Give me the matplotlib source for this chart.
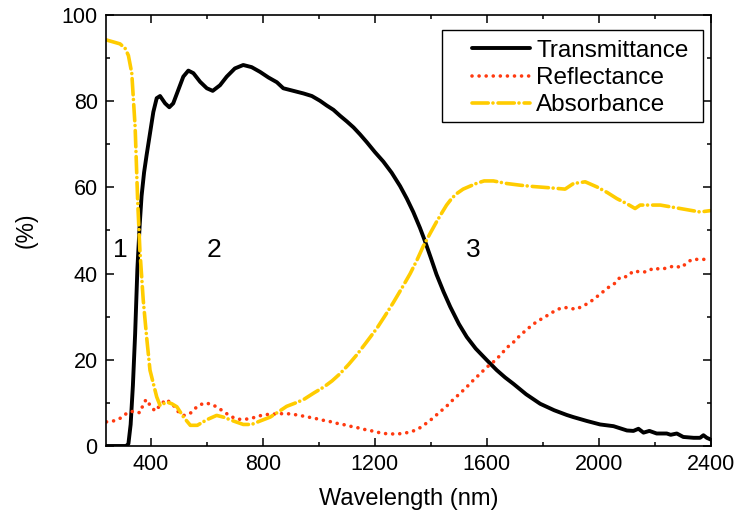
import matplotlib
matplotlib.use("Agg")
import matplotlib.pyplot as plt
from matplotlib.patches import Rectangle
from matplotlib.ticker import MultipleLocator

# ---------------- data ----------------
t_wl = [240, 280, 312, 320, 328, 336, 344, 352, 360, 367, 376, 385, 397, 409, 421, 433,
        451, 466, 480, 498, 516, 534, 552, 576, 600, 621, 647, 671, 700, 730, 760,
        790, 820, 850, 873, 909, 945, 975, 1004, 1028, 1052, 1076, 1100, 1124, 1147,
        1171, 1200, 1230, 1260, 1290, 1314, 1337, 1361, 1379, 1400, 1420, 1445,
        1469, 1500, 1528, 1560, 1600, 1635, 1665, 1695, 1740, 1790, 1840, 1885,
        1909, 1957, 2004, 2052, 2100, 2123, 2141, 2159, 2180, 2206, 2242, 2256,
        2278, 2301, 2338, 2361, 2373, 2385, 2399]
t_val = [0.0, 0.0, 0.0, 0.5, 5.0, 14.0, 26.0, 41.0, 51.0, 58.0, 63.5, 67.5, 72.5, 77.5, 80.7, 81.2,
         79.5, 78.6, 79.5, 82.6, 85.7, 87.1, 86.5, 84.5, 83.0, 82.4, 83.7, 85.7, 87.6, 88.4, 87.9,
         86.8, 85.5, 84.4, 83.0, 82.4, 81.8, 81.2, 80.1, 79.0, 78.0, 76.6, 75.3, 73.9, 72.3,
         70.5, 68.2, 66.0, 63.4, 60.3, 57.4, 54.3, 50.6, 47.5, 43.6, 39.8, 35.8,
         32.3, 28.3, 25.3, 22.6, 19.9, 17.6, 15.9, 14.4, 12.0, 9.8, 8.3, 7.2,
         6.7, 5.8, 5.0, 4.6, 3.6, 3.5, 4.0, 3.1, 3.5, 2.9, 2.9, 2.6,
         2.9, 2.1, 1.9, 1.9, 2.5, 1.9, 1.5]

r_wl = [242, 266, 293, 316, 340, 361, 371, 383, 397, 415, 433, 454, 478, 495, 519,
        543, 566, 591, 617, 642, 666, 691, 714, 738, 763, 788, 814, 838, 862, 888,
        913, 939, 963, 987, 1013, 1038, 1061, 1086, 1111, 1135, 1158, 1183, 1208,
        1233, 1257, 1283, 1308, 1334, 1358, 1382, 1406, 1430, 1454, 1480, 1504,
        1528, 1552, 1573, 1600, 1623, 1647, 1671, 1695, 1719, 1742, 1766, 1790,
        1816, 1841, 1867, 1891, 1916, 1941, 1966, 1988, 2011, 2034, 2058, 2076,
        2100, 2123, 2147, 2171, 2195, 2219, 2243, 2269, 2294, 2314, 2332, 2356,
        2377, 2395]
r_val = [5.6, 5.8, 6.5, 7.7, 8.1, 7.7, 9.3, 10.8, 9.5, 8.1, 9.4, 10.8, 9.7, 8.1, 7.1,
         7.7, 9.2, 10.0, 9.7, 8.8, 7.7, 6.7, 6.2, 6.2, 6.5, 7.0, 7.3, 7.4, 7.5, 7.5,
         7.3, 7.0, 6.7, 6.4, 6.0, 5.7, 5.3, 5.0, 4.6, 4.3, 3.9, 3.6, 3.2,
         2.9, 2.8, 2.8, 3.0, 3.4, 4.1, 5.2, 6.4, 7.8, 9.1, 10.8, 12.2,
         13.7, 15.3, 16.6, 18.3, 19.5, 21.0, 22.8, 24.1, 25.7, 27.0, 28.3, 29.3,
         30.3, 31.3, 32.1, 32.1, 31.7, 32.4, 33.3, 34.4, 35.6, 36.8, 37.8, 39.2,
         39.3, 40.6, 40.4, 40.4, 41.3, 41.0, 41.3, 41.8, 41.4, 42.5, 43.3, 43.3,
         43.3, 43.5]

a_wl = [242, 290, 308, 320, 332, 344, 353, 361, 373, 385, 397, 409, 421, 433, 457, 475, 493,
        517, 541, 566, 600, 635, 659, 695, 730, 760, 790, 826, 855, 885, 921,
        946, 982, 1018, 1047, 1076, 1106, 1136, 1170, 1207, 1236, 1266, 1296, 1326,
        1350, 1373, 1397, 1420, 1440, 1456, 1475, 1493, 1515, 1540, 1565, 1590,
        1623, 1671, 1720, 1766, 1826, 1879, 1909, 1951, 1993, 2030, 2064, 2100,
        2129, 2147, 2219, 2290, 2361, 2397]
a_val = [94.2, 93.3, 92.3, 90.6, 86.5, 74.0, 57.0, 45.4, 33.8, 25.3, 17.6, 14.5, 11.4, 9.4, 10.2, 9.8, 9.1,
         6.7, 4.8, 4.8, 6.1, 7.1, 6.7, 5.8, 5.0, 5.0, 5.8, 6.7, 7.9, 9.2, 10.1,
         10.8, 12.3, 13.7, 15.1, 16.8, 18.9, 21.2, 24.1, 27.3, 30.2, 33.3, 36.6, 40.0,
         43.1, 46.4, 49.3, 52.0, 54.2, 55.9, 57.5, 58.6, 59.6, 60.3, 61.0, 61.5,
         61.5, 60.9, 60.5, 60.2, 59.9, 59.6, 60.9, 61.3, 60.1, 58.8, 57.4, 56.2,
         55.1, 55.9, 55.9, 55.1, 54.3, 54.6]

series_labels = ["Transmittance", "Reflectance", "Absorbance"]
region_labels = ["1", "2", "3"]
region_x = [290, 626, 1551]
region_y = [45.5, 45.5, 45.5]

x_ticks = [400, 800, 1200, 1600, 2000, 2400]
y_ticks = [0, 20, 40, 60, 80, 100]

# ---------------- style ----------------
plt.rcParams['font.family'] = ['Liberation Sans', 'DejaVu Sans']

fig = plt.figure(figsize=(7.37, 5.20), dpi=100)
ax = fig.add_axes([106 / 737, 1 - 446 / 520, 605 / 737, 431 / 520])

ax.plot(t_wl, t_val, color='black', lw=2.8, label=series_labels[0],
        solid_joinstyle='round', solid_capstyle='round')
ax.plot(r_wl, r_val, color='#FF3A10', lw=2.6, linestyle=(0, (0.01, 1.95)),
        dash_capstyle='round', label=series_labels[1])
ax.plot(a_wl, a_val, color='#FFCC00', lw=2.6, linestyle=(0, (4.5, 1.3, 0.01, 1.4)),
        dash_capstyle='round', label=series_labels[2])

ax.set_xlim(240, 2400)
ax.set_ylim(0, 100)
ax.set_xticks(x_ticks)
ax.set_yticks(y_ticks)
ax.xaxis.set_minor_locator(MultipleLocator(200))
ax.yaxis.set_minor_locator(MultipleLocator(10))
ax.tick_params(which='both', direction='in', top=True, right=True, width=1.1,
               labelsize=15.5, pad=6)
ax.tick_params(which='major', length=6)
ax.tick_params(which='minor', length=3)
ax.tick_params(axis='y', which='both', labelright=False)
ax.tick_params(axis='x', which='both', labeltop=False)
for s in ax.spines.values():
    s.set_linewidth(1.2)

ax.set_xlabel("Wavelength (nm)", fontsize=17, labelpad=9)
ax.set_ylabel("(%)", fontsize=16.5, labelpad=17)

for lab, xx, yy in zip(region_labels, region_x, region_y):
    ax.text(xx, yy, lab, fontsize=19, ha='center', va='center')

# legend box
ax.add_patch(Rectangle((0.5554, 0.7517), 0.9868 - 0.5554, 0.9652 - 0.7517,
                       transform=ax.transAxes, fill=True, facecolor='white',
                       edgecolor='black', lw=1.0, zorder=4))
leg = ax.legend(loc='center left', bbox_to_anchor=(0.605, 0.8538), frameon=False,
                fontsize=17.5, handlelength=2.4, handletextpad=0.25,
                labelspacing=0.22, borderpad=0, borderaxespad=0)
leg.set_zorder(5)

fig.savefig("out.png", dpi=100)
